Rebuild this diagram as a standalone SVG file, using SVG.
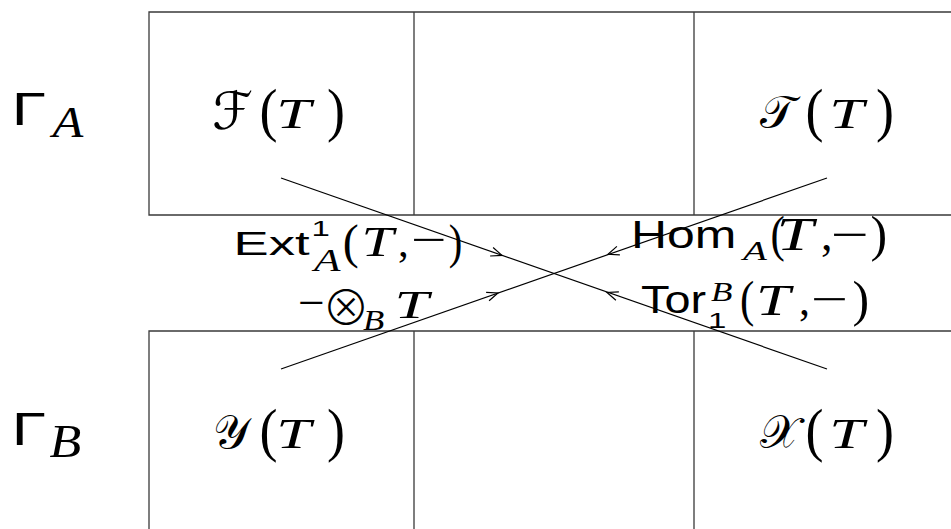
<svg xmlns="http://www.w3.org/2000/svg" width="951" height="529" viewBox="0 0 951 529">
<style>
.box{fill:none;stroke:#3a3a3a;stroke-width:1.3}
.wire{fill:none;stroke:#000;stroke-width:1.2}
.sans{font-family:"Liberation Sans",Arial,sans-serif;fill:#000}
.mi{font-family:"Liberation Serif","Times New Roman",serif;font-style:italic;fill:#000}
.rm{font-family:"Liberation Serif","Times New Roman",serif;fill:#000}
.cal{font-family:"DejaVu Serif","DejaVu Sans",serif;fill:#000}
.op{font-family:"Noto Sans CJK JP","DejaVu Sans",sans-serif;font-weight:300;fill:#000}
</style>
<defs>
<path id="chev" d="M-11,-4.5 L0,0 L-11,4.5" class="wire"/>
</defs>
<rect width="951" height="529" fill="#fff"/>
<g id="grid">
<path class="box" d="M951,12 H149 V215 H951 M414,12 V215 M694,12 V215"/>
<path class="box" d="M951,331 H149 V529 M414,331 V529 M694,331 V529"/>
</g>
<g id="label-GammaA">
<text class="sans" font-size="46" transform="matrix(1.35 0 0 1 11.8 125)">Γ</text>
<text class="mi" font-size="45" transform="matrix(1.12 0 0 1 52.6 137)">A</text>
</g>
<g id="label-GammaB">
<text class="sans" font-size="46" transform="matrix(1.35 0 0 1 11.8 445)">Γ</text>
<text class="mi" font-size="46" transform="matrix(1.13 0 0 1 49.4 457)">B</text>
</g>
<g id="node-FT">
<text class="cal" font-size="52" transform="translate(212 129)">ℱ</text>
<text class="rm" font-size="60" transform="matrix(0.9 0 0 1 259.5 129.5)">(</text>
<text class="mi" font-size="43" transform="matrix(1.45 0 0 1 276.3 128)">T</text>
<text class="rm" font-size="60" transform="matrix(0.9 0 0 1 327 129.5)">)</text>
</g>
<g id="node-TT">
<text class="cal" font-size="46" transform="translate(760 128)">𝒯</text>
<text class="rm" font-size="60" transform="matrix(0.9 0 0 1 805.5 129.5)">(</text>
<text class="mi" font-size="43" transform="matrix(1.45 0 0 1 829.3 128)">T</text>
<text class="rm" font-size="60" transform="matrix(0.9 0 0 1 876 129.5)">)</text>
</g>
<g id="node-YT">
<text class="cal" font-size="46" transform="translate(213 448)">𝒴</text>
<text class="rm" font-size="60" transform="matrix(0.9 0 0 1 259.5 449.5)">(</text>
<text class="mi" font-size="43" transform="matrix(1.45 0 0 1 276.3 448)">T</text>
<text class="rm" font-size="60" transform="matrix(0.9 0 0 1 327 449.5)">)</text>
</g>
<g id="node-XT">
<text class="cal" font-size="46" transform="translate(760 448)">𝒳</text>
<text class="rm" font-size="60" transform="matrix(0.9 0 0 1 805.5 449.5)">(</text>
<text class="mi" font-size="43" transform="matrix(1.45 0 0 1 829.3 448)">T</text>
<text class="rm" font-size="60" transform="matrix(0.9 0 0 1 876 449.5)">)</text>
</g>
<g id="connectors">
<line class="wire" x1="281" y1="178" x2="827" y2="369"/>
<line class="wire" x1="827" y1="178" x2="281" y2="369"/>
<use href="#chev" transform="translate(502 255.4) rotate(19.28)"/>
<use href="#chev" transform="translate(607 292.4) rotate(199.28)"/>
<use href="#chev" transform="translate(498 292.9) rotate(-19.28)"/>
<use href="#chev" transform="translate(608 254.3) rotate(160.72)"/>
</g>
<g id="connector-labels">
<g id="label-ext">
<text class="sans" font-size="34" transform="matrix(1.55 0 0 1 233.5 255)">Ext</text>
<text class="sans" font-size="22" transform="matrix(1.5 0 0 1 311.5 236)">1</text>
<text class="mi" font-size="31" transform="matrix(1.4 0 0 1 314 271)">A</text>
<text class="rm" font-size="48" transform="translate(342.7 257.5)">(</text>
<text class="mi" font-size="43" transform="matrix(1.34 0 0 1 361.6 256)">T</text>
<text class="rm" font-size="43" transform="translate(398 256)">,</text>
<text class="rm" font-size="43" transform="matrix(1.47 0 0 1 411 254)">−</text>
<text class="rm" font-size="48" transform="matrix(0.85 0 0 1 448.8 257.5)">)</text>
</g>
<g id="label-tensor">
<text class="rm" font-size="43" transform="matrix(1.1 0 0 1 298 317)">−</text>
<text class="op" font-size="48" transform="translate(322 325)">⊗</text>
<text class="mi" font-size="29" transform="matrix(1.2 0 0 1 363 330)">B</text>
<text class="mi" font-size="41" transform="matrix(1.5 0 0 1 394.4 318)">T</text>
</g>
<g id="label-hom">
<text class="sans" font-size="39" transform="matrix(1.28 0 0 1 631 248)">Hom</text>
<text class="mi" font-size="27" transform="matrix(1.45 0 0 1 743 260)">A</text>
<text class="rm" font-size="50" transform="matrix(0.86 0 0 1 770.5 251)">(</text>
<text class="mi" font-size="46" transform="matrix(1.44 0 0 1 776.5 250)">T</text>
<text class="rm" font-size="46" transform="translate(821 250)">,</text>
<text class="rm" font-size="46" transform="matrix(1.47 0 0 1 831 249.6)">−</text>
<text class="rm" font-size="50" transform="translate(870.6 251)">)</text>
</g>
<g id="label-tor">
<text class="sans" font-size="39" transform="matrix(1.2 0 0 1 641 313)">Tor</text>
<text class="mi" font-size="27" transform="matrix(1.3 0 0 1 711 301)">B</text>
<text class="sans" font-size="22" transform="matrix(1.5 0 0 1 708 328)">1</text>
<text class="rm" font-size="50" transform="matrix(0.86 0 0 1 740 316)">(</text>
<text class="mi" font-size="44" transform="matrix(1.4 0 0 1 756 315)">T</text>
<text class="rm" font-size="44" transform="translate(799 315)">,</text>
<text class="rm" font-size="44" transform="matrix(1.5 0 0 1 811 314)">−</text>
<text class="rm" font-size="50" transform="translate(852.5 316)">)</text>
</g>
</g>
</svg>
